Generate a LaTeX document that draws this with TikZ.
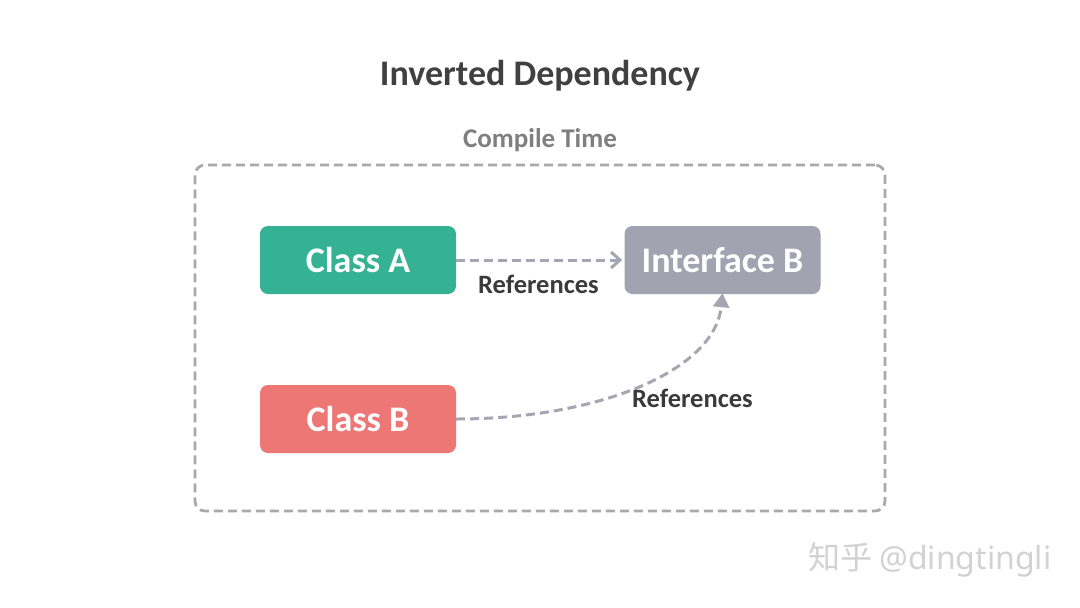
\documentclass[tikz,border=0pt]{standalone}
\usepackage{fontspec}
\setmainfont{Carlito}
\newfontfamily\cjk{Noto Sans CJK SC}
\newfontfamily\wmfont{Noto Sans}
\usetikzlibrary{arrows.meta}
\definecolor{titlegray}{HTML}{404040}
\definecolor{subgray}{HTML}{7F7F7F}
\definecolor{framegray}{HTML}{A9A9A9}
\definecolor{arrowgray}{HTML}{A6A6B2}
\definecolor{greenA}{HTML}{35B294}
\definecolor{redB}{HTML}{EC7775}
\definecolor{ifgray}{HTML}{A2A2B0}
\definecolor{labelgray}{HTML}{3A3A3A}
\definecolor{wmgray}{HTML}{D2D2D2}
\begin{document}
\begin{tikzpicture}[x=1pt,y=-1pt,
  classbox/.style={rounded corners=8pt, minimum width=196pt, minimum height=68pt, inner sep=0pt, text=white, font=\fontsize{36}{36}\selectfont\bfseries},
  reflabel/.style={text=labelgray, font=\fontsize{26.5}{26.5}\selectfont\bfseries, inner sep=0pt},
  refline/.style={draw=arrowgray, line width=3pt, dash pattern=on 9pt off 5pt}]
\useasboundingbox (0,0) rectangle (1080,608);
\fill[white] (0,0) rectangle (1080,608);
\node[text=titlegray, font=\fontsize{36}{36}\selectfont\bfseries, inner sep=0pt] (title) at (540,76) {Inverted Dependency};
\node[text=subgray, font=\fontsize{27}{27}\selectfont\bfseries, inner sep=0pt] (ct) at (540,140) {Compile Time};
\node[draw=framegray, line width=2.8pt, dash pattern=on 9pt off 5pt, rounded corners=10pt, minimum width=690pt, minimum height=346pt, inner sep=0pt] (frame) at (540,338) {};
\node[classbox, fill=greenA] (ca) at (358,260) {Class A};
\node[classbox, fill=ifgray] (ib) at (722.5,260) {Interface B};
\node[classbox, fill=redB] (cb) at (358,419) {Class B};
\draw[refline, -{Straight Barb[length=9pt,width=16pt,line width=3pt]}] (ca.east) -- ([xshift=-2pt]ib.west);
\node[reflabel] (l1) at (538.5,284) {References};
\draw[refline, -{Triangle[length=14pt,width=16pt]}] (cb.east) .. controls (600,419) and (715,370) .. ([yshift=1pt]ib.south);
\node[reflabel] (l2) at (692.5,398) {References};
\node[text=wmgray, inner sep=0pt, anchor=west] (wm) at (808,560) {\fontsize{32}{32}\selectfont\cjk 知乎 \wmfont @dingtingli};
\end{tikzpicture}
\end{document}
